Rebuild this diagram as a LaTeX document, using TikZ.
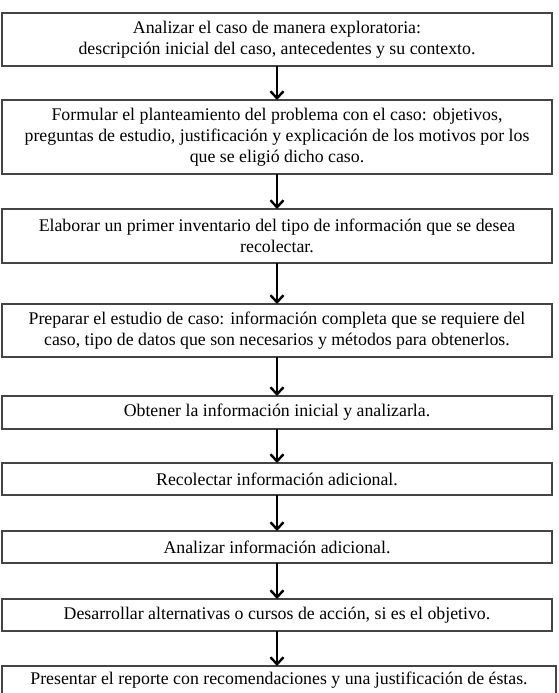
\documentclass[tikz,border=0pt]{standalone}
\usepackage{fontspec}
\setmainfont{Liberation Serif}
\usepackage{xcolor}
\usepackage{tikz}
\usetikzlibrary{positioning,arrows.meta}
\definecolor{frame}{HTML}{444444}
\tikzset{
  stage/.style = {rectangle, draw=frame, line width=1.1pt, fill=white, outer sep=0pt,
                  align=center, inner sep=2pt, minimum width=550pt,
                  font=\fontsize{17.8}{21}\selectfont},
  flow/.style  = {-{Straight Barb[length=7pt,width=13pt]}, line width=2.4pt, draw=black},
}

\begin{document}
\begin{tikzpicture}
  \useasboundingbox (0,0) rectangle (558pt,-693pt);
  \node[stage, minimum height=53pt, anchor=north] (s1) at (277pt,-13pt)
    {Analizar el caso de manera exploratoria:\\descripción inicial del caso, antecedentes y su contexto.};
  \node[stage, minimum height=74pt, below=34pt of s1] (s2)
    {Formular el planteamiento del problema con el caso: objetivos,\\preguntas de estudio, justificación y explicación de los motivos por los\\que se eligió dicho caso.};
  \node[stage, minimum height=54pt, below=35pt of s2] (s3)
    {Elaborar un primer inventario del tipo de información que se desea\\recolectar.};
  \node[stage, minimum height=53pt, below=41pt of s3] (s4)
    {Preparar el estudio de caso: información completa que se requiere del\\caso, tipo de datos que son necesarios y métodos para obtenerlos.};
  \node[stage, minimum height=33pt, below=39pt of s4] (s5)
    {Obtener la información inicial y analizarla.};
  \node[stage, minimum height=32pt, below=34pt of s5] (s6)
    {Recolectar información adicional.};
  \node[stage, minimum height=32pt, below=36pt of s6] (s7)
    {Analizar información adicional.};
  \node[stage, minimum height=32pt, below=36pt of s7] (s8)
    {Desarrollar alternativas o cursos de acción, si es el objetivo.};
  % last box runs past the lower edge
  \node[stage, minimum height=29pt, minimum width=554pt, below=35pt of s8, xshift=2pt] (s9)
    {Presentar el reporte con recomendaciones y una justificación de éstas.};

  \foreach \a/\b in {s1/s2,s2/s3,s3/s4,s4/s5,s5/s6,s6/s7,s7/s8}
    \draw[flow] (\a) -- (\b);
  \draw[flow] (s8.south) -- (s8.south |- s9.north);
\end{tikzpicture}
\end{document}
